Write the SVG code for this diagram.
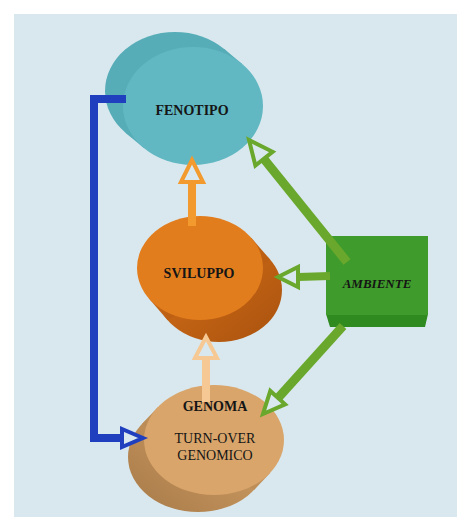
<svg xmlns="http://www.w3.org/2000/svg" width="457" height="520" viewBox="0 0 457 520">
<defs>
<style>
.lbl{font-family:"Liberation Serif","Times New Roman",serif;font-size:14px;fill:#151515;text-anchor:middle;dominant-baseline:central}
.b{font-weight:bold}
.line{fill:none;stroke-linecap:butt;stroke-linejoin:miter}
.head{fill:#d9e8ee;stroke-width:4;stroke-linejoin:miter}
.g{stroke:#69a82c}
.o{stroke:#f39a2e}
.t{stroke:#f6c994}
.bl{stroke:#1f3fbf}
</style>
<linearGradient id="gSv" x1="0" y1="0" x2="1" y2="1">
<stop offset="0" stop-color="#d8721a"/><stop offset="1" stop-color="#a9520e"/>
</linearGradient>
<linearGradient id="gGe" x1="1" y1="0" x2="0" y2="1">
<stop offset="0" stop-color="#d9a66c"/><stop offset="1" stop-color="#a77a48"/>
</linearGradient>
</defs>
<rect width="457" height="520" fill="#ffffff"/>
<rect x="14" y="14" width="443" height="503" fill="#d9e8ee"/>

<g id="fenotipo">
<ellipse cx="175" cy="91" rx="70" ry="59" fill="#56adb8"/>
<polygon points="242.2,64.1 224.2,49.1 125.8,132.9 143.8,147.9" fill="#56adb8"/>
<ellipse cx="193" cy="106" rx="70" ry="59" fill="#61b8c2"/>
<text class="lbl b" x="192" y="110">FENOTIPO</text>
</g>

<g id="sviluppo">
<ellipse cx="219" cy="290" rx="63" ry="52" fill="url(#gSv)"/>
<polygon points="251.3,237.8 270.3,259.8 167.7,320.2 148.7,298.2" fill="url(#gSv)"/>
<ellipse cx="200" cy="268" rx="63" ry="52" fill="#e27d1e"/>
<text class="lbl b" x="199" y="273">SVILUPPO</text>
</g>

<g id="genoma">
<ellipse cx="198" cy="457" rx="70" ry="55" fill="url(#gGe)"/>
<polygon points="270.3,472.7 254.3,489.7 141.7,424.3 157.7,407.3" fill="url(#gGe)"/>
<ellipse cx="214" cy="440" rx="70" ry="55" fill="#d9a56b"/>
<text class="lbl b" x="215" y="406">GENOMA</text>
<text class="lbl" x="215" y="438">TURN-OVER</text>
<text class="lbl" x="215" y="455">GENOMICO</text>
</g>

<g id="ambiente">
<polygon points="326,314 428,314 425,327 330,327" fill="#2f8a20"/>
<rect x="326" y="236" width="102" height="79" fill="#3f9b2b"/>
</g>

<g id="connectors">
<polyline class="line bl" stroke-width="8" points="126,99 94,99 94,438 122,438"/>
<polygon class="head bl" points="143,438 122,429 122,447"/>
<line class="line o" stroke-width="8" x1="192" y1="182" x2="192" y2="226"/>
<polygon class="head o" points="192,160 181,182 203,182"/>
<line class="line t" stroke-width="8" x1="206" y1="358" x2="206" y2="402"/>
<polygon class="head t" points="206,337 195,358 217,358"/>
<line class="line g" stroke-width="9" stroke-linecap="round" x1="347" y1="262" x2="264" y2="159"/>
<polygon class="head g" points="249,140 272.6,151.8 255.4,165.6"/>
<line class="line g" stroke-width="8" x1="298" y1="277" x2="330" y2="276"/>
<polygon class="head g" points="278,277 298,267 298,287"/>
<line class="line g" stroke-width="9" stroke-linecap="round" x1="343" y1="326" x2="278" y2="398"/>
<polygon class="head g" points="263,414 285.1,404.3 270.3,390.9"/>
</g>
<text class="lbl b" x="377" y="283" style="font-style:italic;font-size:13px">AMBIENTE</text>
</svg>
